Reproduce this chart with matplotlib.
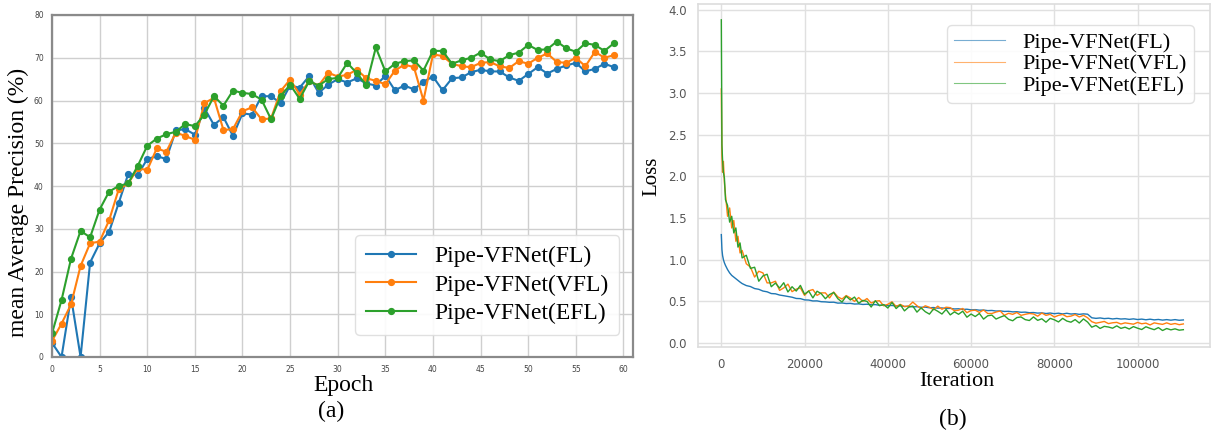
import numpy as np
import matplotlib.pyplot as plt

W, H = 1211, 434

# ---- (a) mAP per epoch ----
epochs = list(range(60))
map_fl = [3.3, 0, 14, 0, 22.1, 26.6, 29.3, 36, 42.8, 42.6,
          46.3, 47, 46.3, 53, 53.3, 52, 58.2, 54.3, 56.1, 51.7,
          57, 56.7, 61, 61, 59.4, 63.5, 63, 65.7, 61.8, 63.7,
          65, 64.2, 65.2, 64, 63.5, 65.8, 62.4, 63.5, 62.6, 64.4,
          65.6, 62.4, 65.2, 65.4, 66.6, 67.2, 66.8, 66.8, 65.4, 64.6,
          66.2, 67.8, 66.3, 67.4, 68.2, 68.8, 66.8, 67.4, 68.6, 67.8]
map_vfl = [3.75, 7.8, 12.3, 21.3, 26.6, 27, 32, 39.2, 40.6, 44.1,
           43.75, 48.8, 48, 52.5, 51.7, 50.8, 59.4, 60.6, 53.1, 53.3,
           57.5, 58.4, 55.6, 55.8, 62.2, 64.9, 61.4, 64.5, 63.5, 66.5,
           65.6, 66, 67.2, 65.2, 64.6, 63.8, 67, 68.4, 67.8, 60,
           70.8, 70.4, 68.6, 68, 67.8, 68.8, 69, 68, 67.6, 69.2,
           68.6, 70, 71, 69, 68.8, 70, 68, 71.4, 70, 70.6]
map_efl = [5.5, 13.3, 23, 29.5, 28, 34.5, 38.7, 40, 40.6, 44.7,
           49.4, 51.1, 52.1, 52.7, 54.5, 54, 56.7, 61, 58.8, 62.3,
           61.8, 61.5, 60.2, 55.6, 61, 63.7, 60.4, 64.5, 63.5, 65,
           65.3, 68.8, 66.4, 63.6, 72.4, 66.8, 68.6, 69.2, 69.4, 67,
           71.6, 71.6, 68.6, 69.4, 70, 71.2, 69.6, 69.2, 70.6, 71.2,
           73, 71.8, 72, 73.8, 72.2, 71.4, 73.4, 73, 71.6, 73.4]

# ---- (b) training loss per iteration (every ~1000 it) ----
iters = [0, 150, 300, 500, 750, 1000, 1500, 2000, 2500, 3000, 3500, 4000, 4500] + list(range(5000, 112000, 1000))
loss_fl = [1.30, 1.12, 1.05, 1.00, 0.96, 0.93, 0.88, 0.84, 0.81, 0.79, 0.77, 0.75, 0.73,
           0.712, 0.688, 0.676, 0.652, 0.643, 0.622, 0.613, 0.592, 0.589, 0.574,
           0.566, 0.557, 0.548, 0.533, 0.531, 0.516, 0.514, 0.503, 0.504, 0.494,
           0.492, 0.487, 0.488, 0.477, 0.479, 0.472, 0.474, 0.466, 0.468, 0.461,
           0.464, 0.457, 0.459, 0.451, 0.454, 0.446, 0.449, 0.442, 0.445, 0.437,
           0.440, 0.432, 0.434, 0.427, 0.429, 0.421, 0.424, 0.417, 0.419, 0.412,
           0.414, 0.407, 0.409, 0.401, 0.404, 0.396, 0.399, 0.392, 0.394, 0.387,
           0.389, 0.382, 0.384, 0.377, 0.379, 0.372, 0.374, 0.367, 0.369, 0.362,
           0.364, 0.357, 0.360, 0.352, 0.358, 0.350, 0.356, 0.347, 0.355, 0.346,
           0.350, 0.342, 0.348, 0.344,
           0.301, 0.294, 0.299, 0.291, 0.295, 0.287, 0.293, 0.286, 0.289, 0.282,
           0.288, 0.280, 0.285, 0.277, 0.284, 0.276, 0.281, 0.273, 0.279, 0.272,
           0.279, 0.271, 0.275]
loss_vfl = [3.05, 2.25, 2.05, 2.18, 1.92, 1.78, 1.52, 1.62, 1.38, 1.47, 1.22, 1.28, 1.08,
            1.11, 0.95, 0.91, 0.79, 0.86, 0.84, 0.72, 0.72, 0.74, 0.63,
            0.66, 0.705, 0.615, 0.645, 0.66, 0.57, 0.625, 0.64, 0.57, 0.60,
            0.60, 0.539, 0.61, 0.552, 0.526, 0.568, 0.539, 0.498, 0.544, 0.498,
            0.532, 0.478, 0.50, 0.506, 0.445, 0.463, 0.493, 0.436, 0.462, 0.436,
            0.441, 0.49, 0.446, 0.411, 0.445, 0.427, 0.398, 0.441, 0.403, 0.428,
            0.4225, 0.385, 0.3925, 0.4125, 0.3625, 0.3875, 0.3925, 0.365, 0.395, 0.3525,
            0.3525, 0.37, 0.3825, 0.33, 0.355, 0.3425, 0.365, 0.33, 0.3425, 0.3525,
            0.347, 0.32, 0.358, 0.33, 0.343, 0.31, 0.33, 0.341, 0.314, 0.321,
            0.34, 0.311, 0.331, 0.301,
            0.254, 0.236, 0.246, 0.257, 0.231, 0.241, 0.246, 0.226, 0.24, 0.232,
            0.224, 0.245, 0.229, 0.237, 0.215, 0.24, 0.23, 0.222, 0.24, 0.222,
            0.232, 0.218, 0.227]
loss_efl = [3.88, 2.38, 2.20, 2.05, 1.98, 1.72, 1.65, 1.45, 1.52, 1.32, 1.38, 1.15, 1.20,
            1.02, 1.052, 0.894, 0.908, 0.74, 0.804, 0.824, 0.674, 0.718, 0.658,
            0.722, 0.611, 0.674, 0.622, 0.69, 0.584, 0.622, 0.54, 0.62, 0.591,
            0.53, 0.58, 0.605, 0.53, 0.49, 0.56, 0.515, 0.55, 0.475, 0.51,
            0.498, 0.43, 0.506, 0.446, 0.46, 0.418, 0.485, 0.412, 0.457, 0.384,
            0.428, 0.442, 0.369, 0.42, 0.374, 0.345, 0.408, 0.379, 0.346, 0.401,
            0.336, 0.372, 0.343, 0.38, 0.308, 0.346, 0.316, 0.353, 0.285, 0.325,
            0.333, 0.286, 0.308, 0.327, 0.283, 0.265, 0.304, 0.311, 0.279, 0.268,
            0.311, 0.27, 0.289, 0.248, 0.294, 0.277, 0.251, 0.294, 0.262, 0.248,
            0.279, 0.238, 0.287, 0.249,
            0.188, 0.209, 0.173, 0.198, 0.19, 0.176, 0.204, 0.174, 0.188, 0.166,
            0.195, 0.176, 0.16, 0.193, 0.174, 0.158, 0.183, 0.148, 0.172, 0.156,
            0.168, 0.152, 0.158]

labels = ['Pipe-VFNet(FL)', 'Pipe-VFNet(VFL)', 'Pipe-VFNet(EFL)']
colors = ['#1f77b4', '#ff7f0e', '#2ca02c']
serif = 'Liberation Serif'

fig = plt.figure(figsize=(W / 100, H / 100), dpi=100)

#
# left panel
#
ax1 = fig.add_axes([52 / W, 1 - 357 / H, 581 / W, 342 / H])
for ys, c, lab in zip([map_fl, map_vfl, map_efl], colors, labels):
    ax1.plot(epochs, ys, '-o', color=c, lw=1.5, ms=4.2, label=lab)
ax1.set_xlim(0, 61)
ax1.set_ylim(0, 80)
ax1.set_xticks(range(0, 61, 5))
ax1.set_yticks(range(0, 81, 10))
ax1.grid(True, color='#cfcfcf', lw=1)
ax1.set_axisbelow(True)
for s in ax1.spines.values():
    s.set_color('#8a8a8a')
    s.set_linewidth(1.6)
ax1.tick_params(length=0, labelsize=5.5, labelcolor='#444444', pad=6)
ax1.legend(loc='lower right', bbox_to_anchor=(0.997, 0.03), prop={'family': serif, 'size': 17},
           labelspacing=0.3, handlelength=2.1, borderpad=0.45, framealpha=0.9, edgecolor='#dddddd')
fig.text(18 / W, 1 - 202 / H, 'mean Average Precision (%)', rotation=90, ha='center', va='center',
         family=serif, size=17)
fig.text(343 / W, 1 - 386 / H, 'Epoch', ha='center', va='center', family=serif, size=17)
fig.text(331 / W, 1 - 411 / H, '(a)', ha='center', va='center', family=serif, size=17)

#
# right panel
#
ax2 = fig.add_axes([698 / W, 1 - 347 / H, 512 / W, 343 / H])
for ys, c, lab in zip([loss_fl, loss_vfl, loss_efl], colors, labels):
    ax2.plot(iters, ys, color=c, lw=1.0, label=lab)
ax2.set_xlim(-5600, 117400)
ax2.set_ylim(-0.05, 4.07)
ax2.set_xticks(range(0, 100001, 20000))
ax2.set_yticks(np.arange(0, 4.01, 0.5))
ax2.grid(True, color='#e0e0e0', lw=1)
ax2.set_axisbelow(True)
for s in ax2.spines.values():
    s.set_color('#dddddd')
    s.set_linewidth(1.2)
ax2.tick_params(length=0, labelsize=8.5, labelcolor='#555555', pad=8)
leg2 = ax2.legend(loc='upper right', bbox_to_anchor=(0.99, 0.97), prop={'family': serif, 'size': 16},
                  labelspacing=0.05, handlelength=2.3, borderpad=0.3, framealpha=0.9, edgecolor='#dddddd')
for h in leg2.get_lines():
    h.set_linewidth(0.8)
    h.set_alpha(0.6)
fig.text(652 / W, 1 - 176 / H, 'Loss', rotation=90, ha='center', va='center', family=serif, size=15)
fig.text(957 / W, 1 - 382 / H, 'Iteration', ha='center', va='center', family=serif, size=16)
fig.text(953 / W, 1 - 419 / H, '(b)', ha='center', va='center', family=serif, size=17)

fig.savefig('out.png', dpi=100)
